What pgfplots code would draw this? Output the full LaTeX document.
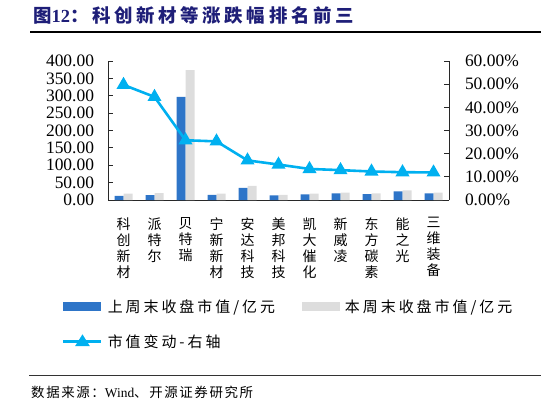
\documentclass[border=0pt]{standalone}
\usepackage{fontspec}
\setmainfont{Liberation Serif}
\newfontfamily\cjk{Noto Sans CJK SC}
\newfontfamily\cjksp[LetterSpace=12]{Noto Sans CJK SC}
\newfontfamily\cjkleg[LetterSpace=20]{Noto Sans CJK SC}
\newfontfamily\cjktitle[LetterSpace=20]{Noto Sans CJK SC}
\usepackage{pgfplots}
\pgfplotsset{compat=1.18}
\definecolor{barblue}{RGB}{46,117,200}
\definecolor{bargray}{RGB}{221,221,221}
\definecolor{linecyan}{RGB}{0,176,240}
\definecolor{titlenavy}{RGB}{30,30,120}
\definecolor{axgray}{RGB}{40,40,40}
\begin{document}
\begin{tikzpicture}
\path[use as bounding box] (0bp,0bp) rectangle (546bp,-405bp);
% title
\node[anchor=west,inner sep=0pt,text=titlenavy] at (33bp,-15bp) {\fontsize{18.5}{20}\selectfont\bfseries\cjktitle 图{\rmfamily 12}：科创新材等涨跌幅排名前三};
\node[anchor=north west,inner sep=0pt,outer sep=0pt] at (30bp,-30.5bp) {\color{black}\rule{511bp}{1.6bp}};
% footer
\node[anchor=west,inner sep=0pt] at (31bp,-392bp) {\fontsize{13.5}{15}\selectfont\cjksp 数据来源：{\rmfamily Wind}、开源证券研究所};
\begin{axis}[
  at={(108bp,-200bp)}, anchor=south west,
  width=341bp, height=139bp, scale only axis,
  xmin=-0.5, xmax=10.5, ymin=0, ymax=400,
  axis y line*=left, axis x line*=bottom,
  axis line style={axgray,line width=0.9bp},
  x axis line style={-}, y axis line style={-},
  ytick={0,50,...,400},
  yticklabel={\pgfmathprintnumber[fixed,zerofill,precision=2]{\tick}},
  yticklabel style={font=\fontsize{17.5}{18}\selectfont, xshift=-10.5bp},
  /pgf/number format/assume math mode=true,
  xtick={0,...,10},
  xticklabels={{科\\创\\新\\材},{派\\特\\尔},{贝\\特\\瑞},{宁\\新\\新\\材},{安\\达\\科\\技},{美\\邦\\科\\技},{凯\\大\\催\\化},{新\\威\\凌},{东\\方\\碳\\素},{能\\之\\光},{三\\维\\装\\备}},
  xticklabel style={font=\fontsize{14}{16}\selectfont\cjk, align=center, anchor=north, yshift=-9bp},
  major x tick style={draw=none},
  extra x ticks={0.5,1.5,...,9.5},
  extra x tick labels={},
  extra x tick style={major tick length=5bp, tick style={axgray,line width=0.9bp}},
  tick align=inside,
  major tick length=5bp,
  tick style={axgray,line width=0.9bp},
  ybar, bar width=9bp,
  legend style={at={(-0.135,-0.70)}, anchor=north west, draw=none, fill=none,
    inner sep=0pt, legend columns=2,
    font=\fontsize{15}{17}\selectfont\cjkleg,
    /tikz/every odd column/.append style={column sep=3bp},
    /tikz/every even column/.append style={column sep=25bp},
    row sep=17bp},
  legend cell align=left,
]
\addplot[fill=barblue, draw=none, bar shift=-4.5bp,
  legend image code/.code={\fill[barblue] (0bp,-4.5bp) rectangle (38bp,4.5bp);}]
  coordinates {(0,12) (1,14) (2,297) (3,15) (4,35) (5,13) (6,16) (7,19) (8,17) (9,25) (10,19)};
\addlegendentry{上周末收盘市值/亿元}
\addplot[fill=bargray, draw=none, bar shift=4.5bp,
  legend image code/.code={\fill[bargray] (0bp,-4.5bp) rectangle (38bp,4.5bp);}]
  coordinates {(0,18) (1,20) (2,374) (3,18) (4,41) (5,15) (6,18) (7,21) (8,19) (9,28) (10,21)};
\addlegendentry{本周末收盘市值/亿元}
\addlegendimage{linecyan, line width=2.6bp, mark=triangle*, mark size=5bp,
  legend image code/.code={\draw[linecyan,line width=2.6bp] (0bp,0bp) -- (38bp,0bp); \fill[linecyan] (19bp,5bp) -- (14bp,-3bp) -- (24bp,-3bp) -- cycle;}}
\addlegendentry{市值变动-右轴}
\end{axis}
\begin{axis}[
  at={(108bp,-200bp)}, anchor=south west,
  width=341bp, height=139bp, scale only axis,
  xmin=-0.5, xmax=10.5, ymin=0, ymax=60,
  axis y line*=right, axis x line=none,
  axis line style={axgray,line width=0.9bp},
  y axis line style={-},
  ytick={0,10,...,60},
  yticklabel={\pgfmathprintnumber[fixed,zerofill,precision=2]{\tick}\%},
  yticklabel style={font=\fontsize{17.5}{18}\selectfont, xshift=12.5bp},
  /pgf/number format/assume math mode=true,
  tick align=inside,
  major tick length=5bp,
  tick style={axgray,line width=0.9bp},
]
\addplot[linecyan, line width=2.6bp, mark=triangle*, mark size=5.5bp, mark options={solid,fill=linecyan}]
  coordinates {(0,49.7) (1,44.5) (2,25.8) (3,25.3) (4,17.1) (5,15.3) (6,13.4) (7,12.9) (8,12.3) (9,12.0) (10,11.9)};
\end{axis}
% rules
\fill[black] (30bp,-30.5bp) rectangle (541bp,-32.5bp);
\fill[black!80] (29bp,-375bp) rectangle (541bp,-376.2bp);
\end{tikzpicture}
\end{document}
